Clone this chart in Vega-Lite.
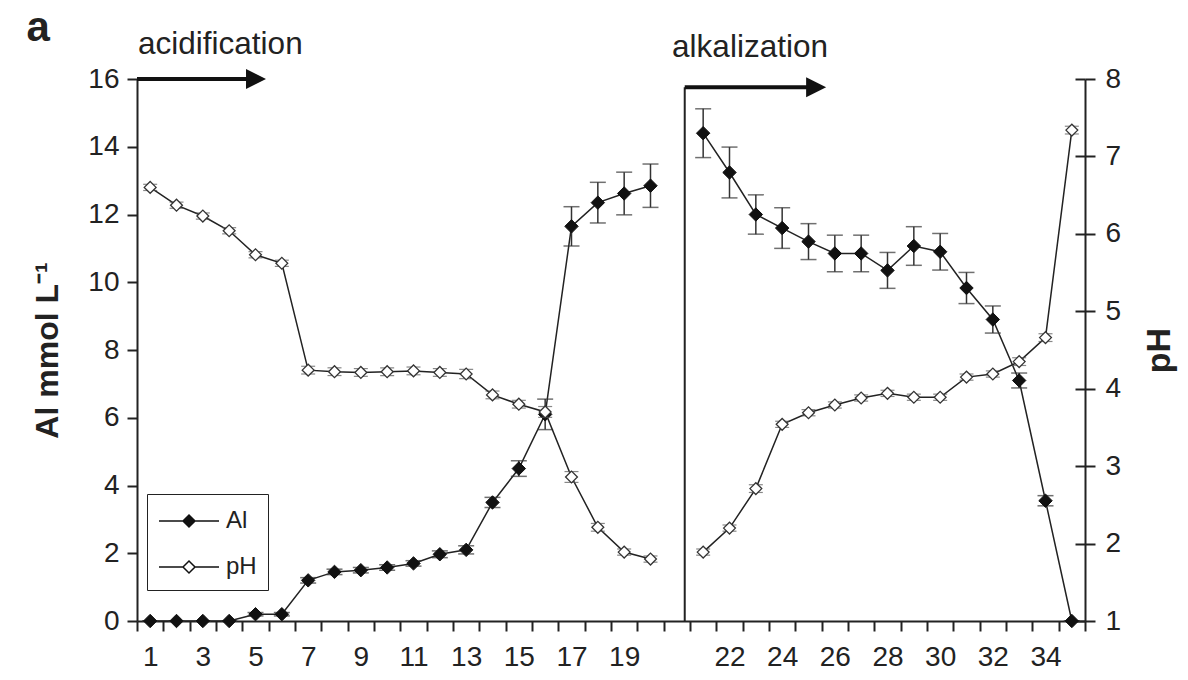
{
  "$schema": "https://vega.github.io/schema/vega-lite/v6.json",
  "width": 948,
  "height": 542,
  "autosize": "none",
  "padding": {"left": 137, "top": 79, "right": 103, "bottom": 59},
  "background": "white",
  "config": {
    "view": {"stroke": null},
    "font": "Liberation Sans",
    "axis": {
      "domainColor": "#222",
      "domainWidth": 2,
      "tickColor": "#222",
      "tickWidth": 2,
      "tickSize": 10,
      "grid": false,
      "labelFont": "Liberation Sans",
      "labelFontSize": 28,
      "labelColor": "#222",
      "titleFont": "Liberation Sans",
      "titleFontSize": 32,
      "titleFontWeight": "bold",
      "titleColor": "#222"
    }
  },
  "data": {
    "values": [
      {"sample": 1, "phase": "acidification", "Al": 0, "Al_sd": 0, "pH": 6.6, "pH_sd": 0.04},
      {"sample": 2, "phase": "acidification", "Al": 0, "Al_sd": 0, "pH": 6.37, "pH_sd": 0.04},
      {"sample": 3, "phase": "acidification", "Al": 0, "Al_sd": 0, "pH": 6.23, "pH_sd": 0.04},
      {"sample": 4, "phase": "acidification", "Al": 0, "Al_sd": 0, "pH": 6.04, "pH_sd": 0.04},
      {"sample": 5, "phase": "acidification", "Al": 0.2, "Al_sd": 0.05, "pH": 5.73, "pH_sd": 0.04},
      {"sample": 6, "phase": "acidification", "Al": 0.2, "Al_sd": 0.05, "pH": 5.62, "pH_sd": 0.04},
      {"sample": 7, "phase": "acidification", "Al": 1.2, "Al_sd": 0.08, "pH": 4.24, "pH_sd": 0.05},
      {"sample": 8, "phase": "acidification", "Al": 1.45, "Al_sd": 0.08, "pH": 4.22, "pH_sd": 0.05},
      {"sample": 9, "phase": "acidification", "Al": 1.5, "Al_sd": 0.08, "pH": 4.21, "pH_sd": 0.05},
      {"sample": 10, "phase": "acidification", "Al": 1.58, "Al_sd": 0.08, "pH": 4.22, "pH_sd": 0.05},
      {"sample": 11, "phase": "acidification", "Al": 1.7, "Al_sd": 0.08, "pH": 4.23, "pH_sd": 0.05},
      {"sample": 12, "phase": "acidification", "Al": 1.97, "Al_sd": 0.1, "pH": 4.21, "pH_sd": 0.05},
      {"sample": 13, "phase": "acidification", "Al": 2.1, "Al_sd": 0.12, "pH": 4.19, "pH_sd": 0.06},
      {"sample": 14, "phase": "acidification", "Al": 3.5, "Al_sd": 0.15, "pH": 3.92, "pH_sd": 0.05},
      {"sample": 15, "phase": "acidification", "Al": 4.5, "Al_sd": 0.23, "pH": 3.8, "pH_sd": 0.05},
      {"sample": 16, "phase": "acidification", "Al": 6.1, "Al_sd": 0.45, "pH": 3.7, "pH_sd": 0.07},
      {"sample": 17, "phase": "acidification", "Al": 11.65, "Al_sd": 0.58, "pH": 2.86, "pH_sd": 0.07},
      {"sample": 18, "phase": "acidification", "Al": 12.35, "Al_sd": 0.6, "pH": 2.21, "pH_sd": 0.05},
      {"sample": 19, "phase": "acidification", "Al": 12.62, "Al_sd": 0.63, "pH": 1.89, "pH_sd": 0.04},
      {"sample": 20, "phase": "acidification", "Al": 12.85, "Al_sd": 0.64, "pH": 1.8, "pH_sd": 0.04},
      {"sample": 21, "phase": "alkalization", "Al": 14.4, "Al_sd": 0.72, "pH": 1.89, "pH_sd": 0.04},
      {"sample": 22, "phase": "alkalization", "Al": 13.24, "Al_sd": 0.75, "pH": 2.2, "pH_sd": 0.04},
      {"sample": 23, "phase": "alkalization", "Al": 12.0, "Al_sd": 0.58, "pH": 2.71, "pH_sd": 0.05},
      {"sample": 24, "phase": "alkalization", "Al": 11.6, "Al_sd": 0.6, "pH": 3.54, "pH_sd": 0.04},
      {"sample": 25, "phase": "alkalization", "Al": 11.2, "Al_sd": 0.53, "pH": 3.69, "pH_sd": 0.04},
      {"sample": 26, "phase": "alkalization", "Al": 10.85, "Al_sd": 0.54, "pH": 3.79, "pH_sd": 0.04},
      {"sample": 27, "phase": "alkalization", "Al": 10.85, "Al_sd": 0.54, "pH": 3.88, "pH_sd": 0.04},
      {"sample": 28, "phase": "alkalization", "Al": 10.35, "Al_sd": 0.53, "pH": 3.94, "pH_sd": 0.04},
      {"sample": 29, "phase": "alkalization", "Al": 11.07, "Al_sd": 0.57, "pH": 3.89, "pH_sd": 0.04},
      {"sample": 30, "phase": "alkalization", "Al": 10.9, "Al_sd": 0.54, "pH": 3.89, "pH_sd": 0.04},
      {"sample": 31, "phase": "alkalization", "Al": 9.83, "Al_sd": 0.46, "pH": 4.15, "pH_sd": 0.04},
      {"sample": 32, "phase": "alkalization", "Al": 8.9, "Al_sd": 0.4, "pH": 4.19, "pH_sd": 0.04},
      {"sample": 33, "phase": "alkalization", "Al": 7.1, "Al_sd": 0.22, "pH": 4.35, "pH_sd": 0.05},
      {"sample": 34, "phase": "alkalization", "Al": 3.55, "Al_sd": 0.15, "pH": 4.66, "pH_sd": 0.05},
      {"sample": 35, "phase": "alkalization", "Al": 0, "Al_sd": 0, "pH": 7.34, "pH_sd": 0.05}
    ]
  },
  "encoding": {
    "x": {
      "field": "sample",
      "type": "ordinal",
      "bandPosition": 0.5,
      "scale": {
        "type": "band",
        "paddingInner": 0,
        "paddingOuter": 0,
        "domain": [1, 2, 3, 4, 5, 6, 7, 8, 9, 10, 11, 12, 13, 14, 15, 16, 17, 18, 19, 20, 20.5, 21, 22, 23, 24, 25, 26, 27, 28, 29, 30, 31, 32, 33, 34, 35]
      },
      "axis": {
        "title": null,
        "tickBand": "extent",
        "labelAngle": 0,
        "labelPadding": 12,
        "labelExpr": "indexof([1, 3, 5, 7, 9, 11, 13, 15, 17, 19, 22, 24, 26, 28, 30, 32, 34], datum.value) >= 0 ? datum.value : ''"
      }
    }
  },
  "layer": [
    {
      "layer": [
        {
          "mark": {"type": "line", "color": "#222", "strokeWidth": 1.5},
          "encoding": {
            "detail": {"field": "phase"},
            "y": {
              "field": "Al",
              "type": "quantitative",
              "scale": {"domain": [0, 16], "nice": false, "zero": true},
              "axis": {
                "orient": "left",
                "title": "Al mmol L⁻¹",
                "values": [0, 2, 4, 6, 8, 10, 12, 14, 16],
                "labelPadding": 8,
                "titlePadding": 23
              }
            }
          }
        },
        {
          "mark": {"type": "errorbar", "color": "#333", "thickness": 1.5, "ticks": {"size": 16, "thickness": 1.5, "color": "#333"}},
          "encoding": {
            "y": {"field": "Al", "type": "quantitative", "title": "Al mmol L⁻¹"},
            "yError": {"field": "Al_sd"}
          }
        },
        {
          "mark": {"type": "point", "shape": "diamond", "size": 180, "filled": true, "opacity": 1, "stroke": "#111", "strokeWidth": 1},
          "encoding": {
            "y": {"field": "Al", "type": "quantitative", "title": "Al mmol L⁻¹"},
            "fill": {
              "datum": "Al",
              "type": "nominal",
              "scale": {"domain": ["Al", "pH"], "range": ["#111", "white"]},
              "legend": {
                "orient": "none",
                "legendX": 10,
                "legendY": 415,
                "title": null,
                "strokeColor": "#222",
                "padding": 11,
                "symbolType": "M-1,0H0.6M1.4,0H3M0.6,0L1,-0.4L1.4,0L1,0.4Z",
                "symbolSize": 900,
                "symbolStrokeColor": "#111",
                "symbolStrokeWidth": 1.5,
                "labelFont": "Liberation Sans",
                "labelFontSize": 24,
                "labelColor": "#222",
                "labelOffset": 36,
                "rowPadding": 18
              }
            }
          }
        },
        {
          "data": {"values": [{"phase": "alkalization"}]},
          "mark": {"type": "rule", "color": "#222", "strokeWidth": 2},
          "encoding": {
            "x": {"datum": 20.5, "type": "ordinal", "bandPosition": 0.8},
            "y": {"datum": 0, "type": "quantitative"},
            "y2": {"datum": 15.76}
          }
        },
        {
          "data": {"values": [{"phase": "acidification"}]},
          "mark": {"type": "rule", "color": "#111", "strokeWidth": 4},
          "encoding": {
            "x": {"datum": 1, "type": "ordinal", "bandPosition": 0},
            "x2": {"datum": 5, "bandPosition": 0.52},
            "y": {"datum": 16, "type": "quantitative"}
          }
        },
        {
          "data": {"values": [{"phase": "alkalization"}]},
          "mark": {"type": "rule", "color": "#111", "strokeWidth": 4},
          "encoding": {
            "x": {"datum": 20.5, "type": "ordinal", "bandPosition": 0.8},
            "x2": {"datum": 25, "bandPosition": 0.79},
            "y": {"datum": 15.76, "type": "quantitative"}
          }
        },
        {
          "data": {"values": [{"phase": "acidification"}]},
          "mark": {"type": "point", "shape": "M-1,-1L1,0L-1,1Z", "size": 400, "filled": true, "opacity": 1, "color": "#111"},
          "encoding": {
            "x": {"datum": 5, "type": "ordinal", "bandPosition": 0.52},
            "y": {"datum": 16, "type": "quantitative"}
          }
        },
        {
          "data": {"values": [{"phase": "alkalization"}]},
          "mark": {"type": "point", "shape": "M-1,-1L1,0L-1,1Z", "size": 400, "filled": true, "opacity": 1, "color": "#111"},
          "encoding": {
            "x": {"datum": 25, "type": "ordinal", "bandPosition": 0.79},
            "y": {"datum": 15.76, "type": "quantitative"}
          }
        },
        {
          "data": {"values": [{"phase": "acidification"}]},
          "mark": {"type": "text", "align": "left", "baseline": "alphabetic", "fontSize": 31.5, "color": "#222"},
          "encoding": {
            "text": {"field": "phase"},
            "x": {"datum": 1, "type": "ordinal", "bandPosition": 0.04},
            "y": {"datum": 16.75, "type": "quantitative"}
          }
        },
        {
          "data": {"values": [{"phase": "alkalization"}]},
          "mark": {"type": "text", "align": "left", "baseline": "alphabetic", "fontSize": 31.5, "color": "#222"},
          "encoding": {
            "text": {"field": "phase"},
            "x": {"datum": 20.5, "type": "ordinal", "bandPosition": 0.32},
            "y": {"datum": 16.66, "type": "quantitative"}
          }
        },
        {
          "data": {"values": [{"panel": "a"}]},
          "mark": {"type": "text", "align": "left", "baseline": "alphabetic", "fontSize": 42, "fontWeight": "bold", "color": "#222"},
          "encoding": {
            "text": {"field": "panel"},
            "x": {"datum": 1, "type": "ordinal", "bandPosition": -4.2},
            "y": {"datum": 17.12, "type": "quantitative"}
          }
        }
      ]
    },
    {
      "layer": [
        {
          "mark": {"type": "line", "color": "#222", "strokeWidth": 1.5},
          "encoding": {
            "detail": {"field": "phase"},
            "y": {
              "field": "pH",
              "type": "quantitative",
              "scale": {"domain": [1, 8], "nice": false, "zero": false},
              "axis": {
                "orient": "right",
                "title": "pH",
                "titleAngle": 270,
                "titleFontSize": 34,
                "format": "d",
                "values": [1, 2, 3, 4, 5, 6, 7, 8],
                "labelPadding": 10,
                "titlePadding": 56
              }
            }
          }
        },
        {
          "mark": {"type": "errorbar", "color": "#555", "thickness": 1.2, "ticks": {"size": 14, "thickness": 1.2, "color": "#555"}},
          "encoding": {
            "y": {
              "field": "pH",
              "type": "quantitative",
              "axis": {
                "orient": "right",
                "title": null,
                "labels": false,
                "domain": false,
                "tickSize": -10,
                "values": [1, 2, 3, 4, 5, 6, 7, 8]
              }
            },
            "yError": {"field": "pH_sd"}
          }
        },
        {
          "mark": {"type": "point", "shape": "diamond", "size": 140, "filled": true, "opacity": 1, "stroke": "#333", "strokeWidth": 1.3},
          "encoding": {
            "y": {"field": "pH", "type": "quantitative", "axis": null},
            "fill": {"datum": "pH", "type": "nominal"}
          }
        }
      ],
      "resolve": {"axis": {"y": "independent"}}
    }
  ],
  "resolve": {"scale": {"y": "independent"}}
}
